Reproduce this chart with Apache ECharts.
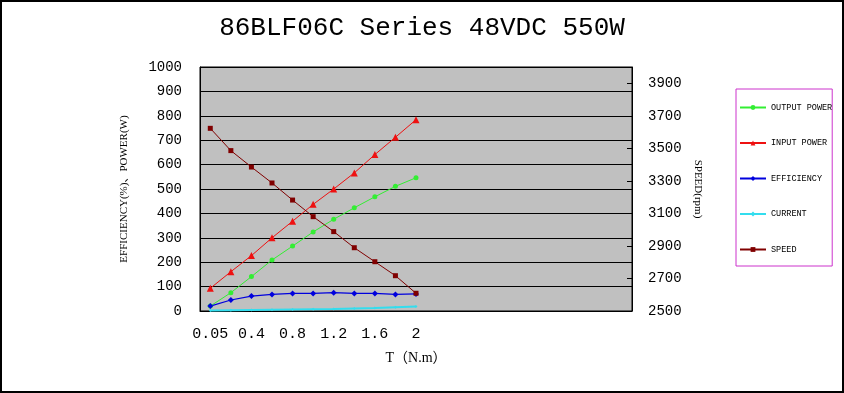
<!DOCTYPE html>
<html>
<head>
<meta charset="utf-8">
<script src="https://cdn.jsdelivr.net/npm/echarts@6/dist/echarts.min.js"></script>
<style>html,body{margin:0;padding:0;background:#fff}#c{width:844px;height:393px}</style>
</head>
<body>
<div id="c"></div>
<script>
var torque = ['0.05','0.2','0.4','0.6','0.8','1.0','1.2','1.4','1.6','1.8','2','','','','','','','','','',''];
var outputPower = [20, 75, 141, 209, 266, 324, 376, 423, 468, 511, 546];
var inputPower = [93, 161, 227, 300, 368, 437, 500, 566, 641, 712, 784];
var efficiency = [20, 45, 61, 68, 72, 72, 75, 72, 72, 68, 70];
var current = [2, 3, 4, 5, 6, 7, 8, 10, 12, 15, 18];
var speed = [3623, 3486, 3385, 3287, 3182, 3080, 2988, 2889, 2803, 2717, 2609];
var leftTicks = {min: 0, max: 1000, interval: 100};
var rightTicks = {min: 2500, max: 4000, interval: 200};

var mono = "'Liberation Mono', 'DejaVu Sans Mono', monospace";
var serif = "'Liberation Serif', 'Noto Sans CJK SC', serif";
var plain = function (v) { return String(v); };
var chart = echarts.init(document.getElementById('c'));
chart.setOption({
  backgroundColor: '#fff',
  animation: false,
  title: {
    text: '86BLF06C Series 48VDC 550W',
    left: 'center', top: 10,
    textStyle: {fontFamily: mono, fontSize: 26, fontWeight: 'normal', color: '#000'}
  },
  graphic: [{
    type: 'rect', shape: {x: 1, y: 1, width: 842, height: 391},
    style: {fill: 'none', stroke: '#000', lineWidth: 2}, silent: true, z: -1
  }],
  legend: {
    orient: 'vertical', left: 736, top: 89,
    padding: [14, 0, 12, 3],
    itemGap: 26.5, itemWidth: 26, itemHeight: 6,
    borderColor: '#cc33cc', borderWidth: 1,
    textStyle: {fontFamily: mono, fontSize: 8.5, color: '#000'},
    data: ['OUTPUT POWER','INPUT POWER','EFFICIENCY','CURRENT','SPEED']
  },
  grid: {left: 200, right: 212, top: 67, bottom: 82, show: true, backgroundColor: '#c0c0c0', borderColor: '#000', borderWidth: 1},
  xAxis: {
    type: 'category', data: torque, boundaryGap: true,
    name: 'T（N.m）', nameLocation: 'middle', nameGap: 40,
    nameTextStyle: {fontFamily: serif, fontSize: 14, color: '#000'},
    axisLine: {lineStyle: {color: '#000'}},
    axisTick: {inside: true, length: 5, interval: 0, lineStyle: {color: '#000'}},
    axisLabel: {interval: 1, margin: 16, fontFamily: mono, fontSize: 15, color: '#000'}
  },
  yAxis: [{
    type: 'value', min: leftTicks.min, max: leftTicks.max, interval: leftTicks.interval,
    name: 'EFFICIENCY(%)、POWER(W)', nameLocation: 'middle', nameGap: 70,
    nameTextStyle: {fontFamily: serif, fontSize: 11, color: '#000'},
    axisLine: {show: true, lineStyle: {color: '#000'}},
    axisTick: {show: false},
    axisLabel: {margin: 18, fontFamily: mono, fontSize: 14, color: '#000', formatter: plain},
    splitLine: {lineStyle: {color: '#000', width: 1}}
  }, {
    type: 'value', min: rightTicks.min, max: rightTicks.max, interval: rightTicks.interval,
    name: 'SPEED(rpm)', nameLocation: 'middle', nameGap: 57, nameRotate: -90,
    nameTextStyle: {fontFamily: serif, fontSize: 11, color: '#000'},
    axisLine: {show: true, lineStyle: {color: '#000'}},
    axisTick: {show: true, inside: true, length: 5, lineStyle: {color: '#000'}},
    axisLabel: {margin: 16, fontFamily: mono, fontSize: 14, color: '#000', showMaxLabel: false, formatter: plain},
    splitLine: {show: false}
  }],
  series: [
    {name: 'OUTPUT POWER', type: 'line', data: outputPower, symbol: 'circle', symbolSize: 5,
      itemStyle: {color: '#33ee33'}, lineStyle: {width: 1, color: '#33ee33'}},
    {name: 'INPUT POWER', type: 'line', data: inputPower, symbol: 'triangle', symbolSize: 7,
      itemStyle: {color: '#ee1111'}, lineStyle: {width: 1, color: '#ee1111'}},
    {name: 'EFFICIENCY', type: 'line', data: efficiency, symbol: 'diamond', symbolSize: 6,
      itemStyle: {color: '#0000dd'}, lineStyle: {width: 1.2, color: '#0000dd'}},
    {name: 'CURRENT', type: 'line', data: current, symbol: 'diamond', symbolSize: 3,
      itemStyle: {color: '#33ddee'}, lineStyle: {width: 2, color: '#33ddee'}},
    {name: 'SPEED', type: 'line', yAxisIndex: 1, data: speed, symbol: 'rect', symbolSize: 5,
      itemStyle: {color: '#800000'}, lineStyle: {width: 1, color: '#800000'}}
  ]
});
</script>
</body>
</html>
